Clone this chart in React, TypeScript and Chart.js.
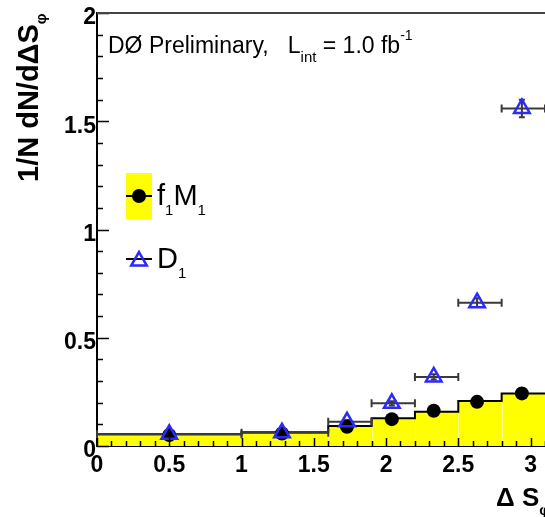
import { useEffect, useRef } from "react";
import Chart from "chart.js/auto";

// histogram bins (f1M1 expectation) and measured points
const binEdges = [0, 1.0, 1.6, 1.9, 2.2, 2.5, 2.8, 3.1];
const f1m1Hist = [0.054, 0.063, 0.092, 0.128, 0.158, 0.208, 0.243];
const pointX = [0.5, 1.28, 1.73, 2.04, 2.33, 2.63, 2.94];
const f1m1Points = [0.051, 0.058, 0.089, 0.124, 0.163, 0.204, 0.243];
const d1Points = [0.054, 0.061, 0.112, 0.197, 0.319, 0.662, 1.559];
const d1Err = [0.006, 0.006, 0.008, 0.01, 0.012, 0.02, 0.04];
const xTicks = [0, 0.5, 1, 1.5, 2, 2.5, 3];
const yTicks = [0, 0.5, 1, 1.5, 2];

const FONT = '"Liberation Sans", Arial, Helvetica, sans-serif';
const YELLOW = "#ffff00";
const BLUE = "#2a2aff";

type Run = [string, number, string, number];

function drawRuns(ctx: CanvasRenderingContext2D, x: number, y: number, runs: Run[]) {
  let cx = x;
  for (const [text, size, weight, dy] of runs) {
    ctx.font = `${weight} ${size}px ${FONT}`;
    ctx.fillText(text, cx, y + dy);
    cx += ctx.measureText(text).width;
  }
  return cx - x;
}

const decorPlugin = {
  id: "decor",
  afterDatasetDraw(chart: any, args: any) {
    if (args.index !== 2) return;
    const { ctx, scales } = chart;
    const xs = scales.x;
    const ys = scales.y;
    const y0 = ys.getPixelForValue(0);
    ctx.save();
    // faint bin separators inside the fill
    ctx.strokeStyle = "rgba(255,255,255,0.55)";
    ctx.lineWidth = 1;
    for (let i = 1; i < binEdges.length - 1; i++) {
      const px = Math.round(xs.getPixelForValue(binEdges[i])) + 0.5;
      const top = ys.getPixelForValue(Math.min(f1m1Hist[i - 1], f1m1Hist[i]));
      ctx.beginPath();
      ctx.moveTo(px, y0 - 1);
      ctx.lineTo(px, top + 2);
      ctx.stroke();
    }
    // D1 error bars
    ctx.strokeStyle = "#3a3a3a";
    ctx.lineWidth = 2;
    for (let i = 0; i < d1Points.length; i++) {
      const py = ys.getPixelForValue(d1Points[i]);
      const xl = xs.getPixelForValue(binEdges[i]);
      const xr = xs.getPixelForValue(binEdges[i + 1]);
      const px = xs.getPixelForValue(pointX[i]);
      ctx.beginPath();
      ctx.moveTo(xl, py);
      ctx.lineTo(xr, py);
      ctx.moveTo(xl, py - 4);
      ctx.lineTo(xl, py + 4);
      ctx.moveTo(xr, py - 4);
      ctx.lineTo(xr, py + 4);
      const yt = ys.getPixelForValue(d1Points[i] + d1Err[i]);
      const yb = ys.getPixelForValue(d1Points[i] - d1Err[i]);
      ctx.moveTo(px, yt);
      ctx.lineTo(px, yb);
      ctx.moveTo(px - 3, yt);
      ctx.lineTo(px + 3, yt);
      ctx.moveTo(px - 3, yb);
      ctx.lineTo(px + 3, yb);
      ctx.stroke();
    }
    ctx.restore();
  },
  afterDraw(chart: any) {
    const { ctx, chartArea, scales } = chart;
    const xs = scales.x;
    const ys = scales.y;
    ctx.save();
    // inward ticks
    ctx.strokeStyle = "#000";
    ctx.lineWidth = 1.5;
    for (let k = 0; k <= 20; k++) {
      const v = k / 10;
      const py = Math.round(ys.getPixelForValue(v)) + 0.5;
      const len = k % 5 === 0 ? 12 : 6;
      ctx.beginPath();
      ctx.moveTo(chartArea.left, py);
      ctx.lineTo(chartArea.left + len, py);
      ctx.stroke();
    }
    for (let k = 0; k <= 31; k++) {
      const v = k / 10;
      const px = Math.round(xs.getPixelForValue(v)) + 0.5;
      const len = k % 5 === 0 ? 8 : 5;
      ctx.beginPath();
      ctx.moveTo(px, chartArea.bottom);
      ctx.lineTo(px, chartArea.bottom - len);
      ctx.stroke();
    }
    // top frame
    ctx.strokeStyle = "#444";
    ctx.lineWidth = 2;
    ctx.beginPath();
    ctx.moveTo(chartArea.left, chartArea.top);
    ctx.lineTo(chartArea.right, chartArea.top);
    ctx.stroke();

    ctx.fillStyle = "#000";
    ctx.textAlign = "left";
    ctx.textBaseline = "alphabetic";
    // annotation
    drawRuns(ctx, 108, 53, [
      ["DØ Preliminary,   L", 23, "400", 0],
      ["int", 15, "400", 9],
      [" = 1.0 fb", 23, "400", 0],
      ["-1", 14, "400", -13],
    ]);

    // legend
    ctx.fillStyle = YELLOW;
    ctx.fillRect(126, 173, 26, 46);
    ctx.strokeStyle = "#000";
    ctx.lineWidth = 2;
    ctx.beginPath();
    ctx.moveTo(126, 196);
    ctx.lineTo(152, 196);
    ctx.moveTo(126, 259);
    ctx.lineTo(152, 259);
    ctx.stroke();
    ctx.fillStyle = "#000";
    ctx.beginPath();
    ctx.arc(139, 196, 7, 0, Math.PI * 2);
    ctx.fill();
    const r = 9;
    ctx.strokeStyle = BLUE;
    ctx.lineWidth = 2.5;
    ctx.beginPath();
    for (let j = 0; j < 3; j++) {
      const a = (j * 2 * Math.PI) / 3;
      const tx = 139 + Math.sin(a) * r;
      const ty = 261 - Math.cos(a) * r;
      if (j === 0) ctx.moveTo(tx, ty);
      else ctx.lineTo(tx, ty);
    }
    ctx.closePath();
    ctx.stroke();
    ctx.fillStyle = "#000";
    drawRuns(ctx, 157, 205, [
      ["f", 29, "400", 0],
      ["1", 15, "400", 10],
      ["M", 29, "400", 0],
      ["1", 15, "400", 10],
    ]);
    drawRuns(ctx, 157, 268, [
      ["D", 29, "400", 0],
      ["1", 15, "400", 10],
    ]);

    // axis titles
    ctx.save();
    ctx.translate(38, 182);
    ctx.rotate(-Math.PI / 2);
    drawRuns(ctx, 0, 0, [
      ["1/N dN/dΔS", 29, "700", 0],
      ["φ", 15, "700", 8],
    ]);
    ctx.restore();
    drawRuns(ctx, 496, 506, [
      ["Δ S", 26, "700", 0],
      ["φ", 15, "700", 9],
    ]);
    ctx.restore();
  },
};

export default function App() {
  const canvasRef = useRef<HTMLCanvasElement | null>(null);

  useEffect(() => {
    if (!canvasRef.current) return;

    const histData = binEdges.map((e, i) => ({
      x: e,
      y: f1m1Hist[Math.min(i, f1m1Hist.length - 1)],
    }));

    const chart = new Chart(canvasRef.current, {
      type: "scatter",
      data: {
        datasets: [
          {
            label: "D1",
            data: pointX.map((x, i) => ({ x, y: d1Points[i] })),
            pointStyle: "triangle",
            pointRadius: 9,
            pointBorderWidth: 2.5,
            pointBorderColor: BLUE,
            pointBackgroundColor: "rgba(0,0,0,0)",
          },
          {
            label: "f1M1",
            data: pointX.map((x, i) => ({ x, y: f1m1Points[i] })),
            pointStyle: "circle",
            pointRadius: 7,
            pointBorderWidth: 0,
            pointBackgroundColor: "#000",
          },
          {
            type: "line",
            label: "f1M1 hist",
            data: histData,
            stepped: "before",
            fill: "origin",
            backgroundColor: YELLOW,
            borderColor: "#000",
            borderWidth: 2,
            pointRadius: 0,
          },
        ] as any,
      },
      options: {
        animation: false,
        responsive: false,
        layout: { autoPadding: false, padding: { top: 13, right: 0, left: 0, bottom: 0 } },
        plugins: {
          legend: { display: false },
          tooltip: { enabled: false },
        },
        scales: {
          x: {
            type: "linear",
            min: 0,
            max: 3.1,
            afterBuildTicks: (s: any) => {
              s.ticks = xTicks.map((value) => ({ value }));
            },
            afterFit: (s: any) => {
              s.height = 71;
              s.paddingRight = 0;
              s.paddingLeft = 0;
            },
            grid: { display: false, drawTicks: false },
            border: { display: true, color: "#000", width: 2 },
            ticks: {
              color: "#000",
              padding: 6,
              maxRotation: 0,
              autoSkip: false,
              callback: (v: any) => String(v),
              font: { family: FONT, size: 23, weight: "bold" },
            },
          },
          y: {
            type: "linear",
            min: 0,
            max: 2,
            afterBuildTicks: (s: any) => {
              s.ticks = yTicks.map((value) => ({ value }));
            },
            afterFit: (s: any) => {
              s.width = 97;
              s.paddingTop = 0;
              s.paddingBottom = 0;
            },
            grid: { display: false, drawTicks: false },
            border: { display: true, color: "#000", width: 2 },
            ticks: {
              color: "#000",
              padding: 1,
              labelOffset: 5,
              autoSkip: false,
              callback: (v: any) => String(v),
              font: { family: FONT, size: 23, weight: "bold" },
            },
          },
        },
      } as any,
      plugins: [decorPlugin],
    });

    return () => chart.destroy();
  }, []);

  return (
    <div style={{ position: "absolute", left: 0, top: 0, width: 545, height: 517, background: "#fff" }}>
      <canvas ref={canvasRef} width={545} height={517} />
    </div>
  );
}
